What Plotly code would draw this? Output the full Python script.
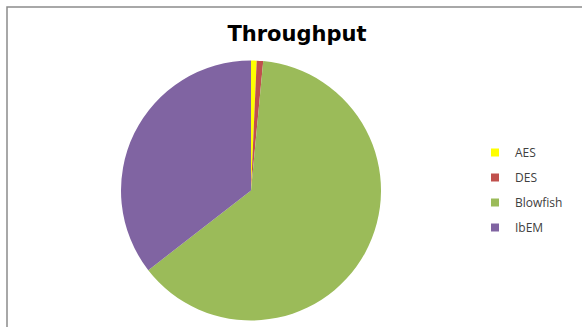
import plotly.graph_objects as go

labels = ["AES", "DES", "Blowfish", "IbEM"]
values = [0.7, 0.8, 63.0, 35.5]
colors = ["#FFFF00", "#C0504D", "#9BBB59", "#8064A2"]
title_text = "Throughput"

W, H = 582, 327
cx, cy, r = 251, 190.5, 130

fig = go.Figure()
fig.add_trace(go.Pie(
    labels=labels, values=values, sort=False, direction="clockwise", rotation=0,
    marker=dict(colors=colors, line=dict(width=0)),
    textinfo="none", hoverinfo="label+percent", showlegend=False,
    domain=dict(x=[(cx - r) / W, (cx + r) / W], y=[1 - (cy + r) / H, 1 - (cy - r) / H]),
))
for lab, col in zip(labels, colors):
    fig.add_trace(go.Scatter(
        x=[None], y=[None], mode="markers", name=lab, legendgroup=lab,
        marker=dict(symbol="square", size=8, color=col),
        showlegend=True,
    ))

fig.update_layout(
    width=W, height=H,
    margin=dict(l=0, r=0, t=0, b=0, autoexpand=False),
    paper_bgcolor="white", plot_bgcolor="white",
    xaxis=dict(visible=False), yaxis=dict(visible=False),
    title=dict(text="<b>" + title_text + "</b>", x=297 / W, xref="container", xanchor="center",
               y=1 - 34 / H, yref="container", yanchor="middle",
               font=dict(family="DejaVu Sans", size=21, color="black")),
    legend=dict(x=475 / W, xanchor="left", y=1 - 138 / H, yanchor="top",
                font=dict(family="Open Sans", size=12, color="#404040"),
                tracegroupgap=6, bgcolor="rgba(0,0,0,0)"),
    shapes=[dict(type="rect", xref="paper", yref="paper",
                 x0=7 / W, x1=1.2, y0=-0.2, y1=1 - 7 / H,
                 line=dict(color="#8c8c8c", width=1.5), layer="above")],
)

fig.write_html("out.html")
